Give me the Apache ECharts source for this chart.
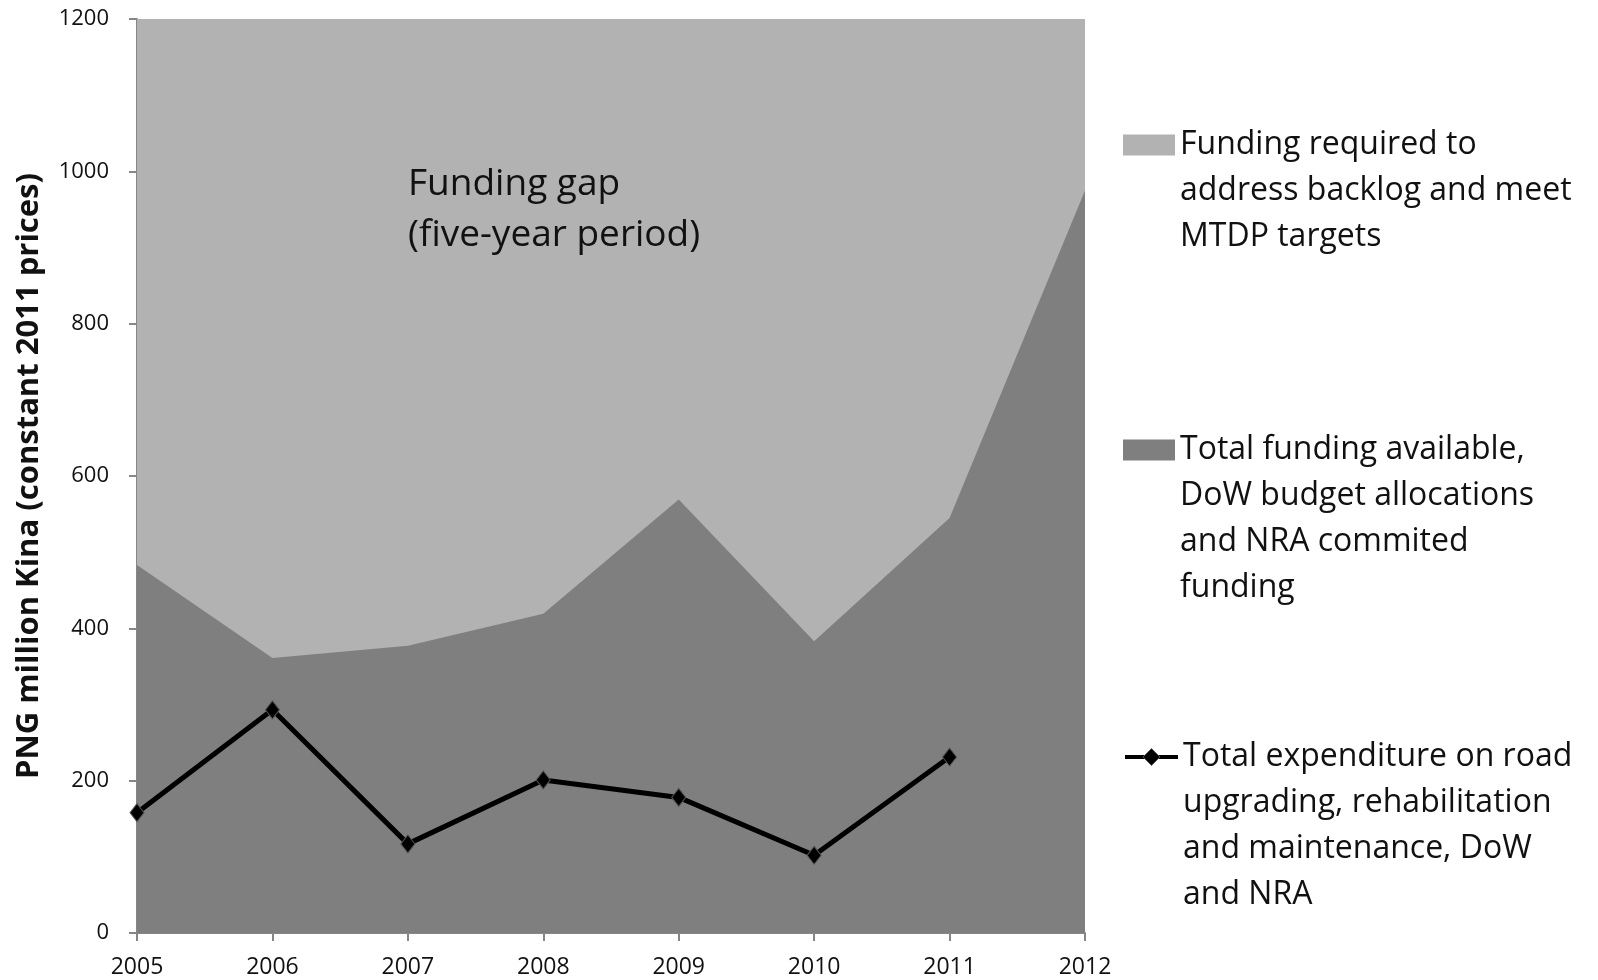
<!DOCTYPE html>
<html>
<head>
<meta charset="utf-8">
<script src="https://cdn.jsdelivr.net/npm/echarts@6/dist/echarts.min.js"></script>
<style>
html,body{margin:0;padding:0;background:#fff;}
#chart{width:1598px;height:980px;}
</style>
</head>
<body>
<div id="chart"></div>
<script>
var years = ['2005','2006','2007','2008','2009','2010','2011','2012'];
var fundingRequired = [1200, 1200, 1200, 1200, 1200, 1200, 1200, 1200];
var fundingAvailable = [483, 361, 377, 419, 569, 383, 545, 975];
var expenditure = [158, 293, 117, 201, 178, 102, 231, null];
var yTicks = [0, 200, 400, 600, 800, 1000, 1200];

var nameRequired = 'Funding required to\naddress backlog and meet\nMTDP targets';
var nameAvailable = 'Total funding available,\nDoW budget allocations\nand NRA commited\nfunding';
var nameExpend = 'Total expenditure on road\nupgrading, rehabilitation\nand maintenance, DoW\nand NRA';

var LIGHT = '#b2b2b2', DARK = '#7f7f7f';
var FONT = '"Open Sans", sans-serif';
var LH = 46;

function legendFor(name, top, icon, w, color) {
  var lines = name.split('\n').length;
  var lead = new Array(lines).join('\n'); // (lines-1) blank lines so the first text line sits beside the icon
  return {
    show: true,
    left: 1123,
    top: top,
    padding: 0,
    orient: 'vertical',
    itemWidth: w,
    itemHeight: 21,
    icon: icon,
    selectedMode: false,
    lineStyle: { width: 4, color: '#000' },
    itemStyle: icon === 'rect' ? { color: color } : { color: '#000', borderColor: '#555', borderWidth: 1 },
    data: [name],
    formatter: function (n) { return lead + n; },
    textStyle: { fontFamily: FONT, fontSize: 32, lineHeight: LH, color: '#111' }
  };
}

var chart = echarts.init(document.getElementById('chart'));
chart.setOption({
  animation: false,
  backgroundColor: '#fff',
  title: {
    text: 'Funding gap\n(five-year period)',
    left: 408,
    top: 159,
    padding: 0,
    textStyle: { fontFamily: FONT, fontSize: 37, fontWeight: 'normal', lineHeight: 51, color: '#111' }
  },
  legend: [
    legendFor(nameRequired, 30, 'rect', 52, LIGHT),
    legendFor(nameAvailable, 289, 'rect', 52, DARK),
    legendFor(nameExpend, 596, undefined, 53, '#000')
  ],
  grid: { left: 137, right: 513, top: 19, bottom: 47 },
  xAxis: {
    type: 'category',
    data: years,
    boundaryGap: false,
    axisLine: { lineStyle: { color: '#868686', width: 2 } },
    axisTick: { show: true, length: 8, alignWithLabel: true, lineStyle: { color: '#868686', width: 2 } },
    axisLabel: { margin: 23, fontFamily: FONT, fontSize: 23, color: '#111' }
  },
  yAxis: {
    type: 'value',
    min: 0, max: 1200, interval: 200,
    name: 'PNG million Kina (constant 2011 prices)',
    nameLocation: 'middle',
    nameGap: 92,
    nameTextStyle: { fontFamily: FONT, fontSize: 31, fontWeight: 'bold', color: '#111' },
    axisLine: { show: true, lineStyle: { color: '#868686', width: 2 } },
    axisTick: { show: true, length: 8, lineStyle: { color: '#868686', width: 2 } },
    splitLine: { show: false },
    axisLabel: { margin: 28, fontFamily: FONT, fontSize: 22, color: '#111',
      formatter: function (v) { return yTicks.indexOf(v) >= 0 ? String(v) : ''; } }
  },
  series: [
    {
      name: nameRequired, type: 'line', data: fundingRequired,
      showSymbol: false, symbol: 'none',
      itemStyle: { color: LIGHT },
      lineStyle: { width: 0, color: LIGHT },
      areaStyle: { color: LIGHT, opacity: 1 },
      z: 1
    },
    {
      name: nameAvailable, type: 'line', data: fundingAvailable,
      showSymbol: false, symbol: 'none',
      itemStyle: { color: DARK },
      lineStyle: { width: 0, color: DARK },
      areaStyle: { color: DARK, opacity: 1 },
      z: 2
    },
    {
      name: nameExpend, type: 'line', data: expenditure,
      symbol: 'diamond', symbolSize: [14, 18], showSymbol: true,
      itemStyle: { color: '#000', borderColor: '#555', borderWidth: 1 },
      lineStyle: { width: 5, color: '#000' },
      z: 3
    }
  ]
});
</script>
</body>
</html>
